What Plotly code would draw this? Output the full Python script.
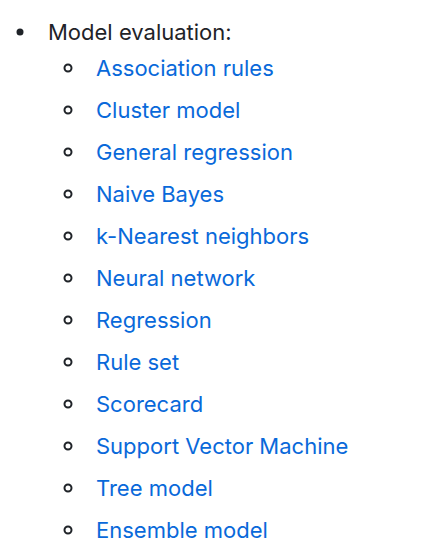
import plotly.graph_objects as go

heading = "Model evaluation:"
items = ["Association rules", "Cluster model", "General regression", "Naive Bayes",
         "k-Nearest neighbors", "Neural network", "Regression", "Rule set",
         "Scorecard", "Support Vector Machine", "Tree model", "Ensemble model"]

W, H = 424, 560
OFF = 8  # page body margin
FONT = "Inter, Helvetica, Liberation Sans, Arial, sans-serif"
ys = [68 + 42 * i for i in range(len(items))]

fig = go.Figure()
# filled bullet for heading
fig.add_trace(go.Scatter(x=[20], y=[32], mode="markers",
                         marker=dict(size=7, color="#1f2328"), hoverinfo="skip"))
# hollow bullets for sub items
fig.add_trace(go.Scatter(x=[68] * len(items), y=ys, mode="markers",
                         marker=dict(size=7, color="white", line=dict(color="#1f2328", width=2)),
                         hoverinfo="skip"))

fig.add_annotation(x=46, y=32, text=heading, showarrow=False, xanchor="left", yanchor="middle",
                   font=dict(family=FONT, size=22, color="#1f2328"))
for y, t in zip(ys, items):
    fig.add_annotation(x=94, y=y, text=t, showarrow=False, xanchor="left", yanchor="middle",
                       font=dict(family=FONT, size=22, color="#0969da"))

fig.update_layout(width=W, height=H, margin=dict(l=0, r=0, t=0, b=0),
                  paper_bgcolor="white", plot_bgcolor="white", showlegend=False,
                  xaxis=dict(range=[OFF, W + OFF], visible=False, fixedrange=True),
                  yaxis=dict(range=[H + OFF, OFF], visible=False, fixedrange=True))
fig.write_html("out.html")
